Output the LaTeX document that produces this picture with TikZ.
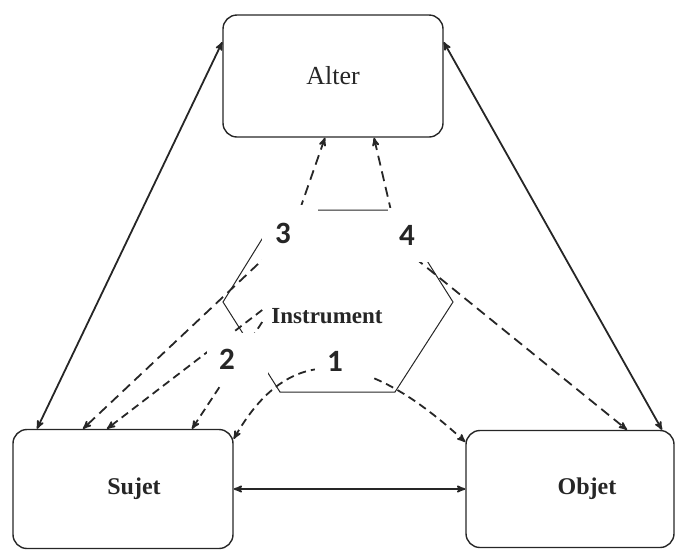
\documentclass[tikz,border=0pt]{standalone}
\usepackage{fontspec}
\setmainfont{Liberation Serif}
\newfontfamily\numfont{Carlito}
\usetikzlibrary{arrows}
\usetikzlibrary{calc}
\tikzset{pole/.style={draw, line width=1.4pt, rounded corners=14pt, inner sep=0pt}}
\tikzset{num/.style={fill=white, inner sep=0pt, font=\numfont\bfseries\fontsize{31}{33}\selectfont}}
\tikzset{rel/.style={<->, line width=1.8pt}}
\tikzset{med/.style={<->, line width=1.8pt, dash pattern=on 10pt off 6pt}}
\tikzset{medshort/.style={<->, line width=1.8pt, dash pattern=on 8pt off 5pt}}

\begin{document}
\begin{tikzpicture}[x=1pt,y=-1pt,>=stealth',black!85]
   \useasboundingbox (0,0) rectangle (675,550);

   \node[pole, minimum width=220pt, minimum height=122pt,
         font=\fontsize{26}{30}\selectfont] (Al) at (333,76) {Alter};
   \node[pole, minimum width=220pt, minimum height=119pt,
         font=\bfseries\fontsize{24}{28}\selectfont] (Su) at (123,489) {\hspace*{22pt}Sujet};
   \node[pole, minimum width=208pt, minimum height=117pt,
         font=\bfseries\fontsize{24}{28}\selectfont] (Ob) at (570,489) {\hspace*{34pt}Objet};

   \draw[line width=1pt] (280,210) -- (395,210) -- (453,302) -- (395,392)
      -- (280,392) -- (223,302) -- cycle;
   \node[font=\bfseries\fontsize{23}{27}\selectfont, inner sep=1pt] (In) at (327,316) {Instrument};

   \coordinate (B3) at (292,232);
   \coordinate (B4) at (399,245);

   \draw[rel] ([xshift=-86pt]Su.north) -- ([yshift=34pt]Al.west);
   \draw[rel] ([yshift=34pt]Al.east) -- ([xshift=92pt]Ob.north);
   \draw[rel] (Su) -- (Ob);

   \draw[med] ([xshift=-8pt]Al.south) -- (B3) -- ([xshift=-40pt]Su.north);
   \draw[med] ([xshift=41pt]Al.south) -- (B4) -- ([xshift=57pt]Ob.north);
   \draw[medshort,->] ([xshift=-8pt,yshift=6pt]In.west) -- ([xshift=-16pt]Su.north);
   \draw[medshort,->] ([xshift=-8pt,yshift=-6pt]In.west) -- ([xshift=69pt]Su.north);
   \draw[medshort] ([yshift=50pt]Su.east) .. controls (290,340) and (365,350)
      .. ([yshift=47pt]Ob.west);

   \node[num, minimum width=56pt, minimum height=57pt] (N3) at (290,233.5) {3\hspace*{14pt}};
   \node[num, minimum width=50pt, minimum height=54pt] (N4) at (413,235) {4\hspace*{12pt}};
   \node[num, minimum width=61pt, minimum height=52pt] (N2) at (237.5,359) {2\hspace*{21pt}};
   \node[num, minimum width=55pt, minimum height=53pt] (N1) at (342.5,361.5) {1\hspace*{15pt}};
\end{tikzpicture}
\end{document}
